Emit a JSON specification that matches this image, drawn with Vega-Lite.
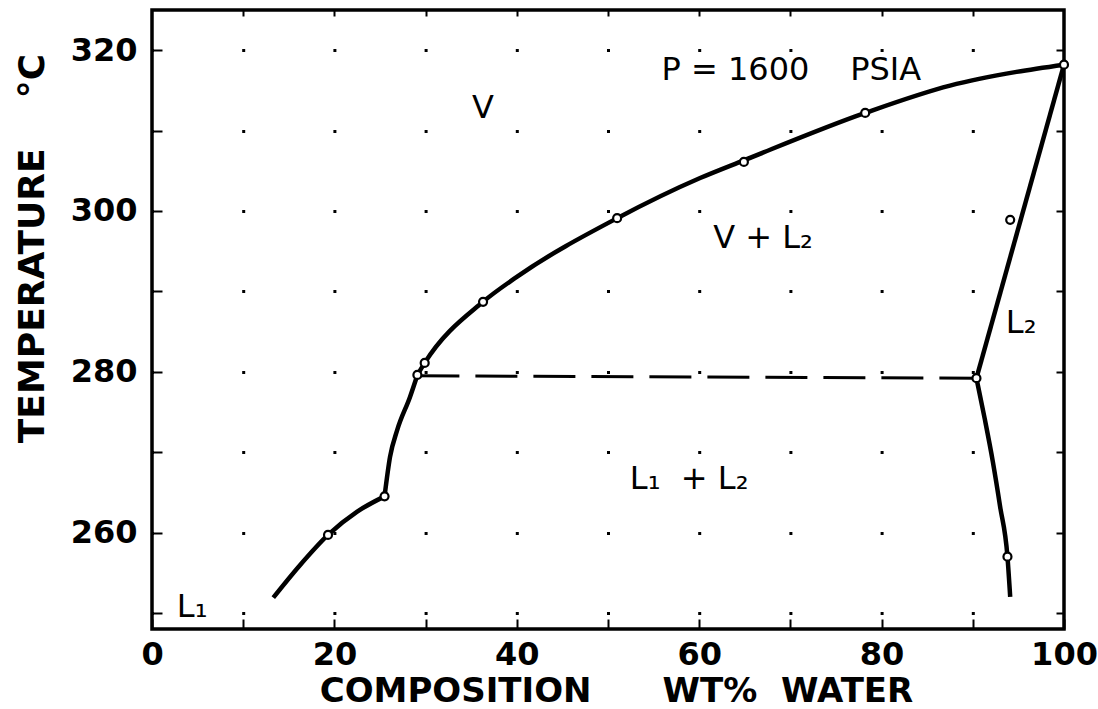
{
  "$schema": "https://vega.github.io/schema/vega-lite/v6.json",
  "width": 912,
  "height": 619,
  "autosize": {"type": "none"},
  "padding": {"left": 152, "top": 10, "right": 34, "bottom": 80},
  "background": "white",
  "config": {
    "view": {"stroke": "black", "strokeWidth": 3.5},
    "axis": {
      "domain": false,
      "tickColor": "black",
      "tickWidth": 2,
      "labelColor": "black",
      "labelFont": "DejaVu Sans",
      "labelFontWeight": "bold",
      "labelFontSize": 32,
      "labelOverlap": false,
      "labelBound": false,
      "labelFlush": false,
      "titleColor": "black",
      "titleFont": "DejaVu Sans",
      "titleFontWeight": "bold",
      "titleFontSize": 34
    }
  },
  "datasets": {
    "curves": [
      {"seg": "A", "o": 1, "x": 13.3, "y": 251.9},
      {"seg": "A", "o": 2, "x": 16.2, "y": 255.9},
      {"seg": "A", "o": 3, "x": 19.3, "y": 259.7},
      {"seg": "A", "o": 4, "x": 22.5, "y": 262.6},
      {"seg": "A", "o": 5, "x": 25.5, "y": 264.5},
      {"seg": "B", "o": 1, "x": 25.5, "y": 264.5},
      {"seg": "B", "o": 2, "x": 26.1, "y": 269.4},
      {"seg": "B", "o": 3, "x": 26.9, "y": 272.8},
      {"seg": "B", "o": 4, "x": 28.3, "y": 276.9},
      {"seg": "B", "o": 5, "x": 29.1, "y": 279.6},
      {"seg": "C", "o": 1, "x": 29.1, "y": 279.6},
      {"seg": "C", "o": 2, "x": 29.9, "y": 281.1},
      {"seg": "C", "o": 3, "x": 36.3, "y": 288.7},
      {"seg": "C", "o": 4, "x": 40.0, "y": 291.8},
      {"seg": "C", "o": 5, "x": 51.0, "y": 299.1},
      {"seg": "C", "o": 6, "x": 60.1, "y": 304.1},
      {"seg": "C", "o": 7, "x": 64.9, "y": 306.3},
      {"seg": "C", "o": 8, "x": 78.2, "y": 312.2},
      {"seg": "C", "o": 9, "x": 87.5, "y": 315.6},
      {"seg": "C", "o": 10, "x": 94.8, "y": 317.3},
      {"seg": "C", "o": 11, "x": 100.0, "y": 318.2},
      {"seg": "D", "o": 1, "x": 100.0, "y": 318.2},
      {"seg": "D", "o": 2, "x": 90.4, "y": 279.2},
      {"seg": "E", "o": 1, "x": 90.4, "y": 279.2},
      {"seg": "E", "o": 2, "x": 91.3, "y": 274.2},
      {"seg": "E", "o": 3, "x": 92.2, "y": 268.8},
      {"seg": "E", "o": 4, "x": 93.0, "y": 263.2},
      {"seg": "E", "o": 5, "x": 93.8, "y": 257.0},
      {"seg": "E", "o": 6, "x": 94.1, "y": 252.0}
    ],
    "tie": [
      {"x": 29.1, "y": 279.5},
      {"x": 90.4, "y": 279.2}
    ],
    "points": [
      {"x": 19.3, "y": 259.7},
      {"x": 25.5, "y": 264.5},
      {"x": 29.1, "y": 279.6},
      {"x": 29.9, "y": 281.1},
      {"x": 36.3, "y": 288.7},
      {"x": 51.0, "y": 299.1},
      {"x": 64.9, "y": 306.1},
      {"x": 78.2, "y": 312.2},
      {"x": 100.0, "y": 318.2},
      {"x": 94.1, "y": 298.9},
      {"x": 90.4, "y": 279.2},
      {"x": 93.8, "y": 257.0}
    ],
    "labels": [
      {"t": "V", "x": 36.3, "y": 311.6},
      {"t": "P = 1600\u00a0\u00a0\u00a0\u00a0PSIA", "x": 70.1, "y": 316.3},
      {"t": "V + L₂", "x": 67.0, "y": 295.4},
      {"t": "L₂", "x": 95.3, "y": 284.8},
      {"t": "L₁\u00a0 + L₂", "x": 58.9, "y": 265.4},
      {"t": "L₁", "x": 4.4, "y": 249.5}
    ]
  },
  "layer": [
    {
      "data": {"name": "curves"},
      "mark": {"type": "line", "color": "black", "strokeWidth": 4.5, "interpolate": "monotone"},
      "encoding": {
        "x": {
          "field": "x", "type": "quantitative",
          "scale": {"domain": [0, 100], "nice": false, "zero": false},
          "axis": {
            "orient": "bottom",
            "values": [0, 10, 20, 30, 40, 50, 60, 70, 80, 90, 100],
            "labelExpr": "datum.value % 20 === 0 ? datum.label : ''",
            "tickSize": -10,
            "labelPadding": 20,
            "grid": false,
            "title": "COMPOSITION\u00a0\u00a0\u00a0\u00a0\u00a0\u00a0WT%\u00a0\u00a0WATER",
            "titleX": 464,
            "titleY": 72,
            "titleAnchor": null,
            "titleAlign": "center",
            "titleBaseline": "alphabetic"
          }
        },
        "y": {
          "field": "y", "type": "quantitative",
          "scale": {"domain": [248, 325], "nice": false, "zero": false},
          "axis": {
            "orient": "left",
            "values": [250, 260, 270, 280, 290, 300, 310, 320],
            "labelExpr": "datum.value % 20 === 0 ? datum.label : ''",
            "tickSize": -10,
            "labelPadding": 25,
            "grid": true,
            "gridColor": "black",
            "gridOpacity": 1,
            "gridWidth": 3,
            "gridDash": [3, 88.2],
            "gridDashOffset": 1.5,
            "title": "TEMPERATURE\u00a0\u00a0\u00a0\u00a0°C",
            "titleFontSize": 36,
            "titleAngle": -90,
            "titleX": -120,
            "titleY": 238,
            "titleAlign": "center",
            "titleBaseline": "middle"
          }
        },
        "detail": {"field": "seg"},
        "order": {"field": "o", "type": "quantitative"}
      }
    },
    {
      "data": {"name": "tie"},
      "mark": {"type": "line", "color": "black", "strokeWidth": 3, "strokeDash": [42, 16]},
      "encoding": {
        "x": {"field": "x", "type": "quantitative", "axis": null},
        "y": {"field": "y", "type": "quantitative", "axis": null}
      }
    },
    {
      "data": {"name": "points"},
      "mark": {"type": "point", "shape": "circle", "size": 64, "filled": false, "fill": "white", "fillOpacity": 1, "stroke": "black", "strokeWidth": 2.2, "opacity": 1},
      "encoding": {
        "x": {"field": "x", "type": "quantitative", "axis": null},
        "y": {"field": "y", "type": "quantitative", "axis": null}
      }
    },
    {
      "data": {"name": "labels"},
      "mark": {"type": "text", "font": "DejaVu Sans", "fontSize": 32, "align": "center", "baseline": "alphabetic", "color": "black"},
      "encoding": {
        "x": {
          "field": "x", "type": "quantitative",
          "axis": {"orient": "top", "values": [10, 20, 30, 40, 50, 60, 70, 80, 90], "labels": false, "tickSize": -6, "grid": false, "title": null}
        },
        "y": {
          "field": "y", "type": "quantitative",
          "axis": {"orient": "right", "values": [250, 260, 270, 280, 290, 300, 310, 320], "labels": false, "tickSize": -8, "grid": false, "title": null}
        },
        "text": {"field": "t"}
      }
    }
  ],
  "resolve": {"axis": {"x": "independent", "y": "independent"}}
}
